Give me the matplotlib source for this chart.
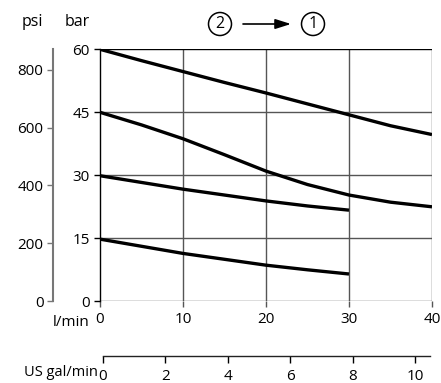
import numpy as np
import matplotlib
matplotlib.use("Agg")
import matplotlib.pyplot as plt
from matplotlib.patches import Circle, FancyArrowPatch
from matplotlib.transforms import IdentityTransform

plt.rcParams['font.family'] = ['Open Sans', 'DejaVu Sans']
plt.rcParams['font.size'] = 11

# flow in l/min, pressure in bar
flow_long = [0, 5, 10, 15, 20, 25, 30, 35, 40]
flow_short = [0, 5, 10, 15, 20, 25, 30]

curve_60 = [60, 57.3, 54.7, 52.1, 49.6, 47.0, 44.4, 41.8, 39.7]
curve_45 = [45, 42.0, 38.7, 34.9, 31.0, 27.8, 25.3, 23.6, 22.5]
curve_30 = [29.9, 28.3, 26.7, 25.3, 23.9, 22.7, 21.7]
curve_15 = [14.8, 13.1, 11.4, 10.0, 8.6, 7.5, 6.5]

bar_ticks = [0, 15, 30, 45, 60]
psi_ticks = [0, 200, 400, 600, 800]
lmin_ticks = [0, 10, 20, 30, 40]
gal_ticks = [0, 2, 4, 6, 8, 10]

W, H = 441, 383
fig = plt.figure(figsize=(W / 100, H / 100), dpi=100)

def box(x0, y0, x1, y1):
    # pixel coords (top-left origin) -> figure fractions
    return [x0 / W, 1 - y1 / H, (x1 - x0) / W, (y1 - y0) / H]

grid_col = '#555555'

# main chart
ax = fig.add_axes(box(100, 49.3, 432, 301.3))
ax.set_xlim(0, 40)
ax.set_ylim(0, 60)
for s in ['top', 'right', 'bottom']:
    ax.spines[s].set_visible(False)
ax.spines['left'].set_color('black')
ax.spines['left'].set_linewidth(1)
for v in [10, 20, 30, 40]:
    ax.axvline(v, color=grid_col, lw=1, zorder=1)
for h in [0, 15, 30, 45]:
    ax.axhline(h, color=grid_col, lw=1, zorder=1)
ax.axhline(60, color='black', lw=1, zorder=1)

for fx, fy in [(flow_long, curve_60), (flow_long, curve_45),
               (flow_short, curve_30), (flow_short, curve_15)]:
    ax.plot(fx, fy, color='black', lw=2.4, solid_capstyle='butt',
            solid_joinstyle='round', zorder=3)

ax.set_yticks(bar_ticks)
ax.set_xticks(lmin_ticks)
ax.tick_params(axis='y', length=4.5, width=1, pad=3, color='black')
ax.tick_params(axis='x', length=4, width=1, pad=4, color=grid_col)

# psi axis
ax_psi = fig.add_axes(box(53.3, 49.3, 54, 301.3))
ax_psi.set_ylim(0, 60 * 14.5038)
ax_psi.set_xticks([])
for s in ['top', 'right', 'bottom']:
    ax_psi.spines[s].set_visible(False)
ax_psi.spines['left'].set_color('#777777')
ax_psi.spines['left'].set_linewidth(1.5)
ax_psi.patch.set_visible(False)
ax_psi.set_yticks(psi_ticks)
ax_psi.tick_params(axis='y', length=4, width=1, pad=3, color='#777777')

# US gal/min axis
ax_gal = fig.add_axes(box(102.7, 355.7, 430, 356))
ax_gal.set_xlim(0, 10.48)
ax_gal.set_yticks([])
for s in ['top', 'right', 'left']:
    ax_gal.spines[s].set_visible(False)
ax_gal.spines['bottom'].set_color('#222222')
ax_gal.spines['bottom'].set_linewidth(1)
ax_gal.patch.set_visible(False)
ax_gal.set_xticks(gal_ticks)
ax_gal.tick_params(axis='x', length=5, width=1, pad=4)

# labels
fig.text(32 / W, 1 - 22 / H, 'psi', ha='center', va='center', fontsize=11.5)
fig.text(77 / W, 1 - 22 / H, 'bar', ha='center', va='center', fontsize=11.5)
fig.text(89 / W, 1 - 322 / H, 'l/min', ha='right', va='center')
fig.text(98 / W, 1 - 373 / H, 'US gal/min', ha='right', va='center', fontsize=10.5)

# circled step numbers with arrow
for cx, num in [(220, '2'), (313, '1')]:
    fig.add_artist(Circle((cx, H - 24), 11.5, transform=IdentityTransform(),
                          fill=False, ec='black', lw=1.1))
    fig.text(cx / W, 1 - 24.5 / H, num, ha='center', va='center', fontsize=11.5)
fig.add_artist(FancyArrowPatch(
    (243 / W, 1 - 24 / H), (291 / W, 1 - 24 / H), transform=fig.transFigure,
    arrowstyle='-|>,head_length=0.95,head_width=0.3', color='black', lw=1.2,
    mutation_scale=10, shrinkA=0, shrinkB=0))

fig.savefig('out.png', dpi=100)
